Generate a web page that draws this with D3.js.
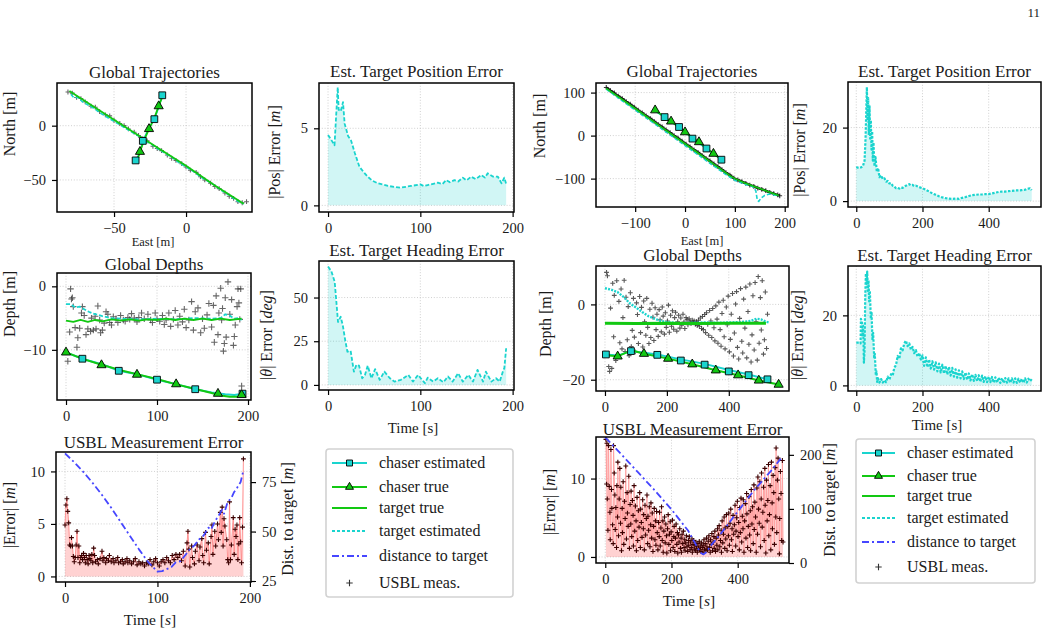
<!DOCTYPE html>
<html>
<head>
<meta charset="utf-8">
<script src="https://cdn.jsdelivr.net/npm/d3@7"></script>
<style>
body { margin: 0; background: #fff; }
text { font-family: "Liberation Serif", "DejaVu Serif", serif; fill: #1a1a1a; }
</style>
</head>
<body>
<svg id="fig" width="1048" height="633"></svg>
<script>
// ---------- data ----------
// left scenario: trajectories [east, north]
const targetTrueA = [[-81, 32], [-60, 14], [-40, -3], [-20, -20], [0, -37], [20, -55], [40, -72]];
const targetEstA = [[-80, 29], [-78, 26], [-75, 26], [-72, 22], [-68, 19], [-64, 16], [-60, 12], [-55, 8], [-50, 4], [-45, 0], [-40, -4], [-35, -8], [-31, -11], [-29, -14], [-27, -15], [-24, -17], [-20, -21], [-15, -25], [-10, -29], [-5, -34], [0, -38], [5, -42], [10, -47], [15, -51], [20, -55], [25, -60], [30, -64], [34, -68], [38, -71], [40, -72]];
const usblA = [[-82, 31], [-79, 30], [-76, 26], [-73, 25], [-70, 22], [-66, 18], [-63, 17], [-60, 13], [-56, 10], [-53, 9], [-50, 5], [-46, 2], [-43, 0], [-40, -3], [-36, -6], [-33, -9], [-30, -12], [-27, -14], [-23, -19], [-20, -21], [-17, -23], [-13, -27], [-10, -30], [-7, -32], [-3, -35], [0, -38], [3, -41], [7, -43], [10, -47], [13, -50], [17, -53], [20, -56], [23, -58], [27, -62], [30, -65], [33, -67], [36, -70], [39, -71], [42, -70]];
const chaserTrueA = [[-34, -33], [-32, -24], [-29, -13], [-25.7, -3], [-22, 7], [-19, 18], [-16, 28]];
const chaserEstA = [[-35, -32], [-32, -25], [-30, -14], [-26, -3], [-22, 6], [-19, 17], [-16.5, 28]];
const squaresA = [[-35, -32], [-30, -14], [-22, 6], [-16.5, 28]];
const trianglesA = [[-32, -24], [-25.7, -3], [-19, 18]];

// left scenario: errors over time [t, value]
const posErrL = [[0, 4.57], [4, 4.2], [7, 3.9], [10.5, 7.66], [11.5, 6.2], [13.7, 6.1], [16.2, 6.7], [18, 5.3], [21.7, 4.5], [25, 4.2], [29, 3.4], [34, 2.5], [38, 2.2], [43, 1.86], [48, 1.6], [54, 1.43], [65, 1.26], [72, 1.2], [79, 1.15], [90, 1.26], [100, 1.36], [104, 1.25], [108, 1.32], [114, 1.4], [119, 1.47], [124, 1.38], [128, 1.64], [132, 1.5], [137, 1.64], [141, 1.55], [146, 1.8], [150, 1.62], [155, 1.86], [160, 1.7], [166, 1.97], [170, 1.8], [173, 2.08], [179, 1.86], [184, 1.86], [188, 1.43], [191, 1.8], [193, 1.39]];
const headErrL = [[0, 67.7], [3.6, 65], [7.2, 59], [9, 47.7], [10.8, 36], [13.7, 39], [16, 34], [18.8, 25], [21, 19], [24.5, 19.5], [28, 7.6], [30.7, 11.5], [33.6, 11], [37, 3.8], [40, 5.7], [43, 11], [47, 3.8], [51, 9], [56, 2.9], [61, 7.6], [67, 3.8], [72, 1.9], [79, 2.9], [87, 5.7], [92, 1.9], [97.5, 5.7], [105, 1], [108, 4.2], [114, 1.9], [119, 3.8], [125, 1.5], [130, 4.8], [135, 1.9], [141, 6.7], [146, 1.9], [152, 5.7], [157, 1.9], [162, 8.6], [168, 1.9], [171, 7.6], [177, 1.9], [182, 3.8], [186, 1.9], [190, 8.6], [191, 9.5], [193, 21]];

// left scenario: depths [t, depth]
const targetTrueE = [[0, -5.4], [8, -5.6], [16, -5.3], [24, -5.6], [32, -5.3], [40, -5.5], [50, -5.2], [60, -5.4], [70, -5.2], [80, -5.4], [90, -5.2], [100, -5.3], [110, -5.1], [120, -5.3], [130, -5.1], [140, -5.3], [150, -5.1], [160, -5.3], [170, -5.1], [180, -5.3], [193, -5.1]];
const targetEstE = [[0, -2.8], [5, -2.8], [10, -3.3], [15, -3.2], [20, -3.6], [25, -4.0], [30, -4.3], [40, -4.7], [50, -5.0], [60, -5.1], [80, -5.2], [100, -5.1], [120, -5.2], [140, -5.0], [160, -5.1], [170, -5.0], [175, -4.4], [180, -4.6], [185, -5.1], [190, -5.0], [193, -5.3]];
const usblE = [[2, -11.8], [4, -7.2], [5, -0.4], [6, -2], [7, -1.8], [8, -3.2], [10, -6.5], [12, -9.6], [13, -8.1], [15, -6.6], [17, -4.2], [18, -3.2], [20, -4.6], [22, -7.6], [24, -6.7], [27, -7.1], [28, -5], [30, -6.9], [32, -4.7], [33, -6.7], [35, -3.1], [37, -5.3], [38, -7.3], [40, -6.9], [42, -5.8], [44, -4], [46, -4.4], [48, -5.7], [50, -6.1], [52, -4.8], [55, -5.1], [57, -5.7], [60, -4.6], [63, -5.3], [65, -5.5], [68, -4.9], [70, -5.2], [72, -4.3], [75, -5], [78, -5.6], [80, -4.9], [83, -4.2], [86, -5.1], [90, -4.4], [93, -5.3], [95, -5.7], [98, -4.2], [100, -5.1], [103, -5.5], [106, -4.6], [108, -6.0], [110, -5.3], [113, -4.2], [115, -6.3], [118, -5.2], [120, -3.8], [123, -6.1], [125, -4.7], [128, -5.6], [130, -3.6], [132, -6.5], [135, -5.3], [138, -2.4], [140, -6.9], [142, -4], [145, -3.4], [148, -7.3], [150, -5.1], [152, -6.6], [155, -4.5], [157, -2.7], [160, -6.4], [162, -3], [163, -8.8], [165, -1.5], [167, -7.6], [168, -4.2], [170, -0.3], [171, -5.3], [172, -3.5], [173, -10.2], [174, -9], [175, -1.8], [176, -8], [178, 0.7], [180, -4.4], [182, -2.1], [184, -9.3], [185, -7.9], [186, -6.1], [188, -3.2], [189, -0.4], [190, -2.6], [191, -5.2], [192, -0.4], [193, -15.7]];
const chaserTrueE = [[0, -10.4], [20, -11.5], [40, -12.4], [60, -13.2], [80, -13.9], [100, -14.6], [120, -15.4], [140, -16.1], [160, -16.8], [170, -17.2], [180, -17.4], [188, -17.4], [193, -17.1]];
const chaserEstE = [[0, -10.4], [18, -11.4], [40, -12.3], [58, -13.3], [80, -13.9], [100, -14.7], [121, -15.4], [142, -16.2], [160, -16.7], [175, -17.0], [185, -17.1], [194, -16.9]];
const trianglesE = [[0, -10.4], [39, -12.4], [78, -13.9], [121, -15.4], [167, -16.9], [193, -17.1]];
const squaresE = [[18, -11.4], [58, -13.3], [100, -14.7], [142, -16.2], [194, -16.9]];

// left scenario: USBL error and distance
const usblErrL = [[0, 4.9], [1, 6.8], [2, 7.4], [3, 6.2], [4, 5.1], [5, 3.0], [6, 2.9], [7, 3.7], [8, 2.9], [9, 1.9], [10, 1.4], [11, 1.8], [12, 3.0], [13, 4.3], [14, 1.8], [15, 2.9], [16, 1.3], [17, 1.8], [18, 2.0], [19, 1.6], [20, 2.2], [21, 1.8], [22, 1.3], [23, 2.0], [24, 1.6], [25, 1.2], [26, 2.0], [27, 1.7], [28, 1.5], [29, 2.1], [30, 1.3], [31, 2.7], [32, 2.0], [33, 1.4], [35, 1.6], [36, 1.2], [38, 1.7], [40, 2.4], [41, 1.5], [42, 1.8], [44, 1.3], [45, 1.7], [47, 1.5], [48, 2.0], [50, 1.4], [52, 1.7], [53, 1.3], [55, 1.5], [57, 1.8], [58, 1.3], [60, 1.4], [62, 1.6], [63, 1.2], [65, 1.4], [67, 1.7], [68, 1.3], [70, 1.5], [72, 1.2], [74, 1.4], [76, 1.7], [78, 1.1], [80, 1.4], [82, 1.2], [84, 1.3], [86, 1.0], [88, 1.3], [90, 1.2], [92, 1.6], [94, 1.1], [96, 1.4], [98, 1.7], [100, 1.3], [102, 1.0], [104, 1.4], [106, 1.6], [108, 1.3], [110, 1.8], [112, 1.5], [114, 1.3], [116, 2.0], [118, 1.6], [120, 2.1], [122, 1.8], [124, 2.1], [126, 1.5], [128, 2.4], [130, 1.0], [132, 3.2], [133, 4.3], [134, 2.6], [135, 0.9], [137, 2.9], [138, 1.8], [140, 1.2], [141, 2.4], [143, 3.0], [145, 1.5], [146, 2.8], [148, 3.6], [149, 2.0], [150, 1.3], [152, 4.2], [153, 2.5], [155, 3.2], [156, 1.2], [158, 3.8], [159, 4.9], [160, 2.1], [162, 4.3], [163, 2.9], [165, 5.0], [166, 3.5], [168, 6.1], [169, 4.2], [170, 6.6], [171, 2.9], [172, 5.5], [173, 4.8], [175, 3.5], [176, 1.6], [177, 1.3], [178, 7.1], [179, 1.6], [180, 3.0], [182, 5.6], [183, 2.1], [184, 4.5], [185, 3.8], [186, 4.9], [187, 1.6], [188, 3.1], [189, 5.6], [190, 3.3], [191, 1.3], [192, 4.7], [193, 11.2]];
const distL = [[0, 89.5], [10, 85], [20, 80], [30, 74.5], [40, 68.5], [50, 62], [60, 55], [70, 48], [80, 41], [90, 34.5], [100, 29.8], [105, 30], [110, 31], [115, 32], [120, 34.5], [125, 35], [130, 38], [135, 41], [140, 43], [145, 46], [150, 48], [155, 52], [158, 51], [162, 55], [166, 58], [170, 61], [172, 59], [176, 65], [180, 67], [183, 70], [186, 72], [190, 75], [193, 81]];

// right scenario: trajectories
const targetTrueC = [[-158, 110], [-100, 63], [-50, 22], [0, -19], [50, -60], [90, -93], [100, -100], [120, -110], [150, -123], [188, -139]];
const targetEstC = [[-158, 108], [-120, 76], [-80, 43], [-40, 10], [0, -23], [40, -56], [80, -89], [100, -104], [120, -113], [135, -118], [142, -128], [145, -150], [148, -153], [152, -146], [160, -139], [170, -136], [180, -138], [188, -141]];
const usblC = [[-158, 112], [-150, 105], [-142, 99], [-134, 92], [-126, 86], [-118, 79], [-110, 73], [-102, 66], [-94, 59], [-86, 53], [-78, 46], [-70, 40], [-62, 33], [-54, 26], [-46, 20], [-38, 13], [-30, 7], [-22, 0], [-14, -6], [-6, -13], [2, -20], [10, -26], [18, -33], [26, -39], [34, -46], [42, -53], [50, -59], [58, -66], [66, -72], [74, -79], [82, -86], [90, -92], [98, -99], [106, -103], [114, -107], [122, -111], [130, -115], [138, -118], [146, -122], [154, -125], [162, -128], [170, -132], [178, -135], [186, -138], [190, -140]];
const chaserTrueC = [[-60, 59], [-28, 33], [0, 8], [28, -15], [57, -42], [75, -57]];
const chaserEstC = [[-60, 57], [-41, 43], [-12, 20], [15, -7], [43, -30], [73, -56]];
const squaresC = [[-41, 43], [-12, 20], [15, -7], [43, -30], [73, -56]];
const trianglesC = [[-60, 59], [-28, 33], [0, 8], [28, -15], [57, -42]];

// right scenario: errors
const posErrR = [[0, 9.3], [5, 9.1], [10, 9.0], [15, 9.2], [20, 9.5], [25, 11], [28, 17], [30, 24], [32, 31], [34, 22], [36, 28], [38, 18], [40, 26], [42, 17], [44, 22], [46, 14], [48, 19], [50, 11], [52, 16], [55, 9.5], [58, 12], [62, 8], [66, 9], [70, 6.5], [75, 7], [80, 6], [85, 6.2], [90, 5.3], [95, 5.5], [100, 4.8], [105, 4.9], [110, 4.2], [115, 4.0], [120, 3.5], [125, 3.6], [130, 3.4], [135, 3.7], [140, 3.6], [145, 3.9], [150, 4.2], [155, 4.4], [160, 4.6], [165, 4.3], [170, 4.4], [175, 4.1], [180, 4.2], [190, 3.8], [200, 3.5], [210, 3.1], [220, 2.6], [230, 2.1], [240, 1.7], [250, 1.3], [260, 1.0], [270, 0.8], [280, 0.7], [290, 0.6], [300, 0.7], [310, 0.6], [320, 0.9], [330, 1.1], [340, 1.4], [350, 1.6], [360, 1.7], [370, 1.8], [380, 1.8], [390, 1.9], [400, 1.9], [410, 2.1], [420, 2.3], [430, 2.5], [440, 2.6], [450, 2.6], [460, 2.7], [470, 2.8], [480, 2.9], [490, 2.9], [500, 3.0], [510, 3.1], [515, 3.3], [520, 3.4], [525, 3.5], [530, 3.0]];
const headErrR = [[0, 12.2], [10, 12.2], [13, 12], [14, 19], [17, 18], [19, 14], [21, 17], [23, 6.5], [25, 10], [27, 25], [29, 32], [31, 29], [33, 32.5], [35, 27], [37, 30], [39, 24], [41, 27], [44, 19], [46, 21], [49, 13], [51, 15], [54, 8], [56, 9], [59, 3], [61, 4], [63, 1], [66, 2], [70, 0.8], [75, 1.8], [80, 0.8], [85, 1.5], [90, 0.9], [95, 2.5], [100, 1.6], [105, 3.2], [110, 2.8], [115, 5.1], [120, 5.8], [125, 8.4], [130, 7.6], [135, 10.6], [140, 10], [145, 12], [150, 12.8], [155, 11.2], [160, 12], [165, 10.2], [170, 11], [175, 9.2], [180, 10.1], [185, 8.2], [190, 9.3], [195, 7.4], [200, 8.6], [205, 5.6], [210, 8], [215, 5.2], [220, 7.4], [225, 4.8], [230, 6.9], [235, 4.5], [240, 6.6], [245, 4.0], [250, 6.2], [255, 3.7], [260, 5.9], [265, 3.4], [270, 5.6], [275, 3.1], [280, 5.3], [285, 2.8], [290, 5.0], [295, 2.5], [300, 4.6], [305, 2.2], [310, 4.3], [315, 2.0], [320, 4.0], [325, 1.8], [330, 3.7], [335, 1.6], [340, 3.4], [345, 1.4], [350, 3.2], [355, 1.3], [360, 3.0], [365, 1.2], [370, 2.9], [375, 1.0], [380, 2.8], [385, 1.0], [390, 2.6], [395, 0.9], [400, 2.5], [405, 0.9], [410, 2.4], [415, 0.8], [420, 2.3], [425, 0.8], [430, 2.2], [435, 0.7], [440, 2.1], [445, 0.7], [450, 2.1], [455, 0.8], [460, 2.0], [465, 0.7], [470, 2.0], [475, 0.8], [480, 2.0], [485, 0.7], [490, 1.9], [495, 0.8], [500, 1.9], [505, 0.7], [510, 2.0], [515, 0.8], [520, 1.9], [525, 1.2], [530, 1.8]];

// right scenario: depths
const targetTrueG = [[0, -5], [100, -5.1], [200, -5], [300, -5.1], [400, -5], [520, -5]];
const targetEstG = [[0, 4.3], [20, 3.9], [40, 3.3], [60, 2], [80, 0.3], [100, -0.8], [120, -2], [140, -3.1], [160, -3.8], [180, -4.4], [200, -4.7], [240, -5], [280, -4.9], [320, -4.8], [360, -4.9], [400, -4.8], [440, -4.7], [470, -4.4], [490, -3.8], [505, -4.0], [520, -4.6], [530, -4.8]];
const usblG = [[5, 8.5], [8, 7.6], [12, -16.5], [15, -17.8], [18, -1], [22, -17], [25, 5.6], [28, -8.6], [30, 2.4], [35, -14.9], [38, 6.3], [42, -13.5], [45, 0.8], [48, -10.2], [52, 4.1], [55, -11.8], [58, -3.5], [62, 6.4], [65, -12.5], [68, 1.9], [72, -9.4], [75, -0.6], [78, -13.6], [82, 3.1], [85, -11.2], [88, -6.9], [92, 1.6], [95, -8.7], [98, -12.6], [102, 0.4], [105, -2.7], [108, -10.4], [112, 2.1], [115, -7.5], [118, -0.8], [122, -11.3], [125, 0.9], [128, -4.6], [132, -8.2], [135, 1.6], [138, -6.1], [142, -10.4], [145, -1.3], [148, -8.8], [152, 0.3], [155, -3.4], [158, -9.6], [162, -0.9], [165, -6.7], [168, -2.6], [172, -8.5], [175, -1.4], [178, -4.1], [182, -7.3], [185, -0.7], [188, -3.1], [192, -7.9], [195, -2.2], [198, -6.1], [202, -4.4], [205, -0.2], [208, -7.4], [212, -2.9], [215, -5.8], [218, -1.7], [222, -6.6], [225, -3.5], [228, -2.1], [232, -7.1], [235, -4.6], [238, -2.9], [242, -6.3], [245, -3.6], [248, -5.5], [252, -2.6], [255, -4.7], [258, -6.4], [262, -3.5], [265, -4.1], [268, -5.4], [272, -3.8], [275, -4.6], [278, -5.1], [282, -4.2], [285, -4.9], [288, -4.4], [292, -5.3], [295, -4.5], [298, -5.6], [302, -4.2], [305, -5.8], [308, -3.6], [312, -6.4], [315, -3.2], [318, -6.7], [322, -2.7], [325, -7.5], [328, -2.2], [332, -5.3], [335, -8.2], [338, -1.6], [342, -4.4], [345, -8.8], [348, -1.1], [352, -6.2], [355, -9.7], [358, -0.4], [362, -3.9], [365, -10.3], [368, 0.6], [372, -6.7], [375, -11.1], [378, -2.4], [382, 1.1], [385, -8.6], [388, -11.8], [392, -0.7], [395, -5.4], [398, 2.2], [402, -12.6], [405, -9.3], [408, -2.6], [412, 2.9], [415, -13.7], [418, -7.6], [422, 0.1], [425, 3.4], [428, -11.4], [432, -14.5], [435, -3.7], [438, 4.2], [442, -9.8], [445, -12.9], [448, 1.4], [452, -6.3], [455, 4.6], [458, -14.2], [462, -1.9], [465, -10.6], [468, 5.4], [472, -15.3], [475, -8.1], [478, 2.3], [482, -12.1], [485, 5.8], [488, -4.6], [492, -14.8], [495, 7.4], [498, -10.3], [502, 1.8], [505, -6.8], [508, 6.3], [512, -13.2], [515, -9.4], [518, 3.3], [522, -11.7], [525, -2.6]];
const chaserTrueG = [[0, -13.5], [41, -13.8], [85, -12.2], [126, -13.1], [204, -14.4], [282, -15.9], [358, -17.5], [430, -18.8], [497, -20.2], [561, -21.3]];
const chaserEstG = [[3, -13.3], [41, -13.6], [84, -12.4], [169, -13.3], [245, -14.6], [322, -15.8], [400, -17.4], [464, -18.6], [525, -19.9]];
const squaresG = [[3, -13.3], [84, -12.4], [169, -13.4], [245, -14.9], [322, -16], [400, -17.8], [464, -18.8], [525, -19.9]];
const trianglesG = [[41, -13.8], [126, -13.1], [204, -14.4], [282, -15.9], [358, -17.5], [430, -18.8], [497, -20.2], [561, -21.3]];

// right scenario: USBL error and distance
const usblErrR = [[2, 15], [4, 9.3], [5, 14.5], [6, 7.4], [8, 3.4], [10, 14.2], [12, 9], [14, 5.7], [15, 2.2], [17, 13.7], [19, 8.6], [20, 6.2], [22, 4.1], [24, 1.7], [25, 14.2], [27, 10.7], [29, 7.9], [30, 3.5], [32, 6.3], [34, 1.2], [35, 9.1], [37, 5.1], [38, 12.1], [40, 2.7], [42, 7.4], [44, 11.3], [46, 4.3], [47, 8.9], [49, 0.8], [51, 6.2], [52, 3.1], [54, 9.6], [56, 1.6], [58, 7.1], [60, 4.9], [62, 11.6], [64, 2.3], [66, 8.2], [67, 5.6], [69, 3.9], [71, 10.3], [73, 1.1], [75, 6.7], [77, 4.2], [78, 8.4], [80, 2.6], [82, 7.2], [84, 5.3], [85, 1.4], [87, 9.1], [89, 3.3], [91, 6.5], [93, 4.6], [94, 0.8], [96, 7.6], [98, 2.1], [100, 5.9], [102, 3.8], [104, 8.2], [106, 1.2], [107, 6.1], [109, 4.4], [111, 2.5], [113, 7.3], [115, 3.6], [116, 5.4], [118, 0.9], [120, 6.6], [122, 2.8], [124, 4.9], [126, 7.9], [128, 1.7], [129, 5.2], [131, 3.4], [133, 6.4], [135, 1.3], [137, 4.1], [138, 6.9], [140, 2.4], [142, 5.6], [144, 0.7], [146, 3.9], [148, 6.2], [150, 2.2], [152, 4.6], [153, 1.5], [155, 5.8], [157, 3.1], [159, 0.9], [161, 4.4], [163, 2.6], [164, 5.7], [166, 1.4], [168, 3.7], [170, 6.4], [172, 2.1], [174, 4.6], [175, 0.6], [177, 3.3], [179, 5.1], [181, 1.8], [183, 4.2], [185, 2.7], [186, 0.5], [188, 3.6], [190, 5.4], [192, 1.6], [194, 2.9], [196, 4.5], [197, 0.8], [199, 3.2], [201, 2.1], [203, 4.7], [205, 1.2], [207, 2.6], [208, 3.9], [210, 0.7], [212, 2.4], [214, 4.2], [216, 1.6], [218, 3.1], [219, 0.5], [221, 2.8], [223, 1.9], [225, 3.6], [227, 1.1], [229, 2.4], [230, 0.6], [232, 2.9], [234, 1.7], [236, 3.3], [238, 1.2], [240, 2.2], [241, 0.8], [243, 1.8], [245, 2.7], [247, 1.3], [249, 0.7], [251, 2.1], [252, 1.5], [254, 2.6], [256, 0.9], [258, 1.9], [260, 1.2], [262, 2.3], [263, 0.6], [265, 1.6], [267, 2.1], [269, 1.0], [271, 1.5], [273, 0.8], [274, 1.9], [276, 1.3], [278, 0.6], [280, 1.7], [282, 1.1], [284, 2.0], [285, 0.9], [287, 1.4], [289, 0.7], [291, 1.8], [293, 1.2], [295, 0.6], [296, 1.5], [298, 2.2], [300, 1.0], [302, 1.7], [304, 0.8], [306, 2.4], [307, 1.3], [309, 0.9], [311, 2.0], [313, 2.7], [315, 1.2], [317, 0.6], [318, 2.2], [320, 1.6], [322, 3.0], [324, 0.8], [326, 1.9], [328, 2.6], [329, 1.1], [331, 3.3], [333, 0.7], [335, 2.4], [337, 1.5], [339, 3.6], [340, 0.9], [342, 2.8], [344, 4.0], [346, 1.3], [348, 2.1], [350, 3.4], [351, 0.6], [353, 4.6], [355, 1.8], [357, 2.9], [359, 5.1], [361, 1.1], [362, 3.7], [364, 2.3], [366, 5.4], [368, 0.8], [370, 3.9], [372, 2.7], [373, 5.6], [375, 1.5], [377, 4.3], [379, 6.1], [381, 2.2], [383, 3.6], [384, 0.7], [386, 5.3], [388, 2.9], [390, 4.1], [392, 6.6], [394, 1.4], [395, 3.3], [397, 5.0], [399, 7.1], [401, 2.6], [403, 4.4], [405, 0.9], [406, 6.3], [408, 3.1], [410, 7.5], [412, 1.9], [414, 5.2], [416, 3.6], [417, 7.3], [419, 0.6], [421, 4.6], [423, 6.8], [425, 2.4], [427, 8.1], [428, 5.5], [430, 1.2], [432, 3.9], [434, 7.7], [436, 2.8], [438, 5.9], [439, 0.8], [441, 8.6], [443, 4.2], [445, 6.4], [447, 1.7], [449, 9.2], [450, 3.5], [452, 7.0], [454, 5.1], [456, 0.6], [458, 8.8], [460, 2.9], [461, 10.2], [463, 6.1], [465, 4.3], [467, 9.6], [469, 1.3], [471, 7.4], [472, 10.7], [474, 3.8], [476, 5.7], [478, 8.9], [480, 2.1], [482, 11.3], [483, 6.6], [485, 0.5], [487, 9.8], [489, 4.6], [491, 7.2], [493, 11.8], [494, 2.7], [496, 5.4], [498, 9.1], [500, 0.9], [502, 12.1], [504, 6.9], [505, 3.6], [507, 10.4], [509, 8.2], [511, 1.6], [513, 11.4], [515, 5.1], [516, 13.9], [518, 3.1], [520, 9.8], [522, 12.6], [524, 7.4], [526, 0.4], [527, 4.9], [529, 10.9], [531, 8.1], [533, 2.1], [535, 12.3], [537, 1.9]];
const distR = [[0, 232], [10, 226], [50, 200], [100, 167], [150, 134], [200, 99], [250, 60], [280, 27], [290, 18], [297, 16], [305, 20], [320, 33], [350, 55], [400, 95], [450, 135], [500, 170], [530, 193]];

// tick values
const ticksTrajLx = [-50, 0], ticksTrajLy = [-50, 0];
const ticksTimeL = [0, 100, 200];
const ticksPosLy = [0, 5];
const ticksTrajRx = [-100, 0, 100, 200], ticksTrajRy = [-100, 0, 100];
const ticksTimeR = [0, 200, 400];
const ticksPosRy = [0, 20];
const ticksDepthLy = [-10, 0];
const ticksHeadLy = [0, 25, 50];
const ticksDepthRy = [-20, 0];
const ticksHeadRy = [0, 20];
const ticksUsblLy = [0, 5, 10], ticksDistLy = [25, 50, 75];
const ticksUsblRy = [0, 10], ticksDistRy = [0, 100, 200];

const legendLabels = ["chaser estimated", "chaser true", "target true", "target estimated", "distance to target", "USBL meas."];

// ---------- drawing ----------
const svg = d3.select("#fig");
const cyan = "#1ad4ce";
const green = "#12c812";
const blue = "#4646ff";
const fontTick = 14.5;
const plus = "M-3.2,0H3.2M0,-3.2V3.2";
const plusSmall = "M-2.4,0H2.4M0,-2.4V2.4";
let clipCount = 0;

function addPanel(p) {
    const x = d3.scaleLinear().domain(p.xd).range([p.l, p.r]);
    const y = d3.scaleLinear().domain(p.yd).range([p.b, p.t]);
    const g = svg.append("g");
    const grid = g.append("g")
        .attr("stroke", "#c4c4c4").attr("stroke-width", 0.8).attr("stroke-dasharray", "1,1.8");
    grid.selectAll("line.gx").data(p.xt).join("line")
        .attr("class", "gx")
        .attr("x1", d => x(d)).attr("x2", d => x(d)).attr("y1", p.t).attr("y2", p.b);
    grid.selectAll("line.gy").data(p.yt).join("line")
        .attr("class", "gy")
        .attr("y1", d => y(d)).attr("y2", d => y(d)).attr("x1", p.l).attr("x2", p.r);

    const id = "clip" + (clipCount++);
    svg.append("clipPath").attr("id", id).append("rect")
        .attr("x", p.l).attr("y", p.t).attr("width", p.r - p.l).attr("height", p.b - p.t);
    const plot = g.append("g").attr("clip-path", "url(#" + id + ")");
    const axes = g.append("g");

    const xa = axes.append("g").attr("transform", "translate(0," + p.b + ")")
        .call(d3.axisBottom(x).tickValues(p.xt).tickSize(5).tickPadding(6).tickFormat(d3.format("d")));
    const ya = axes.append("g").attr("transform", "translate(" + p.l + ",0)")
        .call(d3.axisLeft(y).tickValues(p.yt).tickSize(5).tickPadding(6).tickFormat(d3.format("d")));
    [xa, ya].forEach(a => {
        a.select(".domain").remove();
        a.attr("font-size", fontTick).attr("font-family", null);
        a.selectAll("line").attr("stroke", "#000").attr("stroke-width", 1.2);
    });
    let y2 = null;
    if (p.y2d) {
        y2 = d3.scaleLinear().domain(p.y2d).range([p.b, p.t]);
        const ra = axes.append("g").attr("transform", "translate(" + p.r + ",0)")
            .call(d3.axisRight(y2).tickValues(p.y2t).tickSize(5).tickPadding(6).tickFormat(d3.format("d")));
        ra.select(".domain").remove();
        ra.attr("font-size", fontTick).attr("font-family", null);
        ra.selectAll("line").attr("stroke", "#000").attr("stroke-width", 1.2);
    }
    axes.append("rect")
        .attr("x", p.l).attr("y", p.t).attr("width", p.r - p.l).attr("height", p.b - p.t)
        .attr("fill", "none").attr("stroke", "#000").attr("stroke-width", 1.5);
    axes.append("text")
        .attr("x", (p.l + p.r) / 2).attr("y", p.ty)
        .attr("text-anchor", "middle").attr("font-size", 17)
        .text(p.title);
    return { x, y, y2, plot, g };
}

function label(x, y, parts, size, rotate) {
    const t = svg.append("text")
        .attr("text-anchor", "middle").attr("font-size", size)
        .attr("transform", "translate(" + x + "," + y + ")" + (rotate ? " rotate(-90)" : ""));
    parts.forEach(pt => {
        t.append("tspan").attr("font-style", pt[1] ? "italic" : null).text(pt[0]);
    });
}

function drawLine(P, data, color, width, dash, yScale) {
    const ys = yScale || P.y;
    P.plot.append("path")
        .datum(data)
        .attr("d", d3.line().x(d => P.x(d[0])).y(d => ys(d[1])))
        .attr("fill", "none").attr("stroke", color).attr("stroke-width", width)
        .attr("stroke-dasharray", dash)
        .attr("stroke-linejoin", "round");
}

function drawArea(P, data, color, opacity) {
    P.plot.append("path")
        .datum(data)
        .attr("d", d3.area().x(d => P.x(d[0])).y0(P.y(0)).y1(d => P.y(d[1])))
        .attr("fill", color).attr("fill-opacity", opacity);
}

function drawPlus(P, data, color, opacity, shape) {
    P.plot.selectAll(null).data(data).join("path")
        .attr("d", shape || plus)
        .attr("transform", d => "translate(" + P.x(d[0]) + "," + P.y(d[1]) + ")")
        .attr("stroke", color).attr("stroke-width", 1.1).attr("stroke-opacity", opacity);
}

function drawSymbols(P, data, type, fill) {
    P.plot.selectAll(null).data(data).join("path")
        .attr("d", d3.symbol().type(type).size(type === d3.symbolSquare ? 46 : 36))
        .attr("transform", d => "translate(" + P.x(d[0]) + "," + P.y(d[1]) + ")")
        .attr("fill", fill).attr("stroke", "#000").attr("stroke-width", 0.9);
}

// ----- panels -----
const pA = addPanel({ l: 57, r: 252, t: 83, b: 212, xd: [-89.6, 45.8], yd: [-79.5, 39.3], xt: ticksTrajLx, yt: ticksTrajLy, title: "Global Trajectories", ty: 78 });
const pB = addPanel({ l: 319, r: 514, t: 83, b: 212, xd: [-9.8, 201.5], yd: [-0.43, 7.94], xt: ticksTimeL, yt: ticksPosLy, title: "Est. Target Position Error", ty: 77 });
const pC = addPanel({ l: 596, r: 788, t: 83, b: 207, xd: [-178.6, 206.6], yd: [-166, 122.3], xt: ticksTrajRx, yt: ticksTrajRy, title: "Global Trajectories", ty: 77 });
const pD = addPanel({ l: 848, r: 1041, t: 82, b: 207, xd: [-25, 558], yd: [-1.6, 32.4], xt: ticksTimeR, yt: ticksPosRy, title: "Est. Target Position Error", ty: 77 });
const pE = addPanel({ l: 57, r: 251, t: 273, b: 400, xd: [-9.9, 203.3], yd: [-17.9, 2.1], xt: ticksTimeL, yt: ticksDepthLy, title: "Global Depths", ty: 270 });
const pF = addPanel({ l: 319, r: 514, t: 261, b: 390, xd: [-9.8, 201.5], yd: [-2.9, 70.9], xt: ticksTimeL, yt: ticksHeadLy, title: "Est. Target Heading Error", ty: 256 });
const pG = addPanel({ l: 596, r: 789, t: 266, b: 391, xd: [-29, 594.5], yd: [-23, 10.2], xt: ticksTimeR, yt: ticksDepthRy, title: "Global Depths", ty: 261 });
const pH = addPanel({ l: 848, r: 1041, t: 266, b: 391, xd: [-25, 558], yd: [-1.6, 34.1], xt: ticksTimeR, yt: ticksHeadRy, title: "Est. Target Heading Error", ty: 261 });
const pI = addPanel({ l: 56, r: 251, t: 452, b: 582, xd: [-9.75, 201.2], yd: [-0.53, 11.85], xt: ticksTimeL, yt: ticksUsblLy, y2d: [24.5, 90.2], y2t: ticksDistLy, title: "USBL Measurement Error", ty: 448 });
const pJ = addPanel({ l: 596, r: 789, t: 437, b: 563, xd: [-28, 555], yd: [-0.77, 15.3], xt: ticksTimeR, yt: ticksUsblRy, y2d: [0, 233], y2t: ticksDistRy, title: "USBL Measurement Error", ty: 435 });

// axis labels
label(15, 124, [["North [m]", 0]], 16, true);
label(153, 246, [["East [m]", 0]], 12.5, false);
label(280, 152, [["|Pos| Error [", 0], ["m", 1], ["]", 0]], 16, true);
label(545, 126, [["North [m]", 0]], 16, true);
label(702, 245, [["East [m]", 0]], 12.5, false);
label(805, 150, [["|Pos| Error [", 0], ["m", 1], ["]", 0]], 16, true);
label(15, 304, [["Depth [m]", 0]], 16, true);
label(272, 335, [["|", 0], ["θ", 1], ["| Error [", 0], ["deg", 1], ["]", 0]], 16, true);
label(413, 433, [["Time [s]", 0]], 15, false);
label(551, 324, [["Depth [m]", 0]], 16, true);
label(803, 335, [["|", 0], ["θ", 1], ["| Error [", 0], ["deg", 1], ["]", 0]], 16, true);
label(937, 430, [["Time [s]", 0]], 15, false);
label(15, 515, [["|Error| [", 0], ["m", 1], ["]", 0]], 16, true);
label(293, 519, [["Dist. to target [", 0], ["m", 1], ["]", 0]], 16, true);
label(150, 625, [["Time [", 0], ["s", 1], ["]", 0]], 15.5, false);
label(555, 502, [["|Error| [", 0], ["m", 1], ["]", 0]], 16, true);
label(835, 500, [["Dist. to target [", 0], ["m", 1], ["]", 0]], 16, true);
label(689, 606, [["Time [", 0], ["s", 1], ["]", 0]], 15.5, false);
svg.append("text").attr("x", 1040).attr("y", 17).attr("text-anchor", "end").attr("font-size", 13).text("11");

// A: left trajectories
drawPlus(pA, usblA, "#333", 0.75, plusSmall);
drawLine(pA, targetEstA, cyan, 1.6, "4,2");
drawLine(pA, targetTrueA, green, 1.8, null);
drawLine(pA, chaserEstA, cyan, 1.6, null);
drawLine(pA, chaserTrueA, green, 1.8, null);
drawSymbols(pA, squaresA, d3.symbolSquare, cyan);
drawSymbols(pA, trianglesA, d3.symbolTriangle, green);

// B: left position error
drawArea(pB, posErrL, cyan, 0.2);
drawLine(pB, posErrL, cyan, 1.8, "4,2");

// C: right trajectories
drawPlus(pC, usblC, "#111", 0.85, plusSmall);
drawLine(pC, usblC, "#111", 2.2, null);
drawLine(pC, targetEstC, cyan, 1.6, "4,2");
drawLine(pC, targetTrueC, green, 1.6, null);
drawLine(pC, chaserEstC, cyan, 1.6, null);
drawLine(pC, chaserTrueC, green, 1.8, null);
drawSymbols(pC, squaresC, d3.symbolSquare, cyan);
drawSymbols(pC, trianglesC, d3.symbolTriangle, green);

// D: right position error
drawArea(pD, posErrR, cyan, 0.2);
drawLine(pD, posErrR, cyan, 2.2, "2.5,1.5");

// E: left depths
drawPlus(pE, usblE, "#333", 0.75);
drawLine(pE, targetEstE, cyan, 1.8, "4,2");
drawLine(pE, targetTrueE, green, 1.8, null);
drawLine(pE, chaserEstE, cyan, 2, null);
drawLine(pE, chaserTrueE, green, 2, null);
drawSymbols(pE, squaresE, d3.symbolSquare, cyan);
drawSymbols(pE, trianglesE, d3.symbolTriangle, green);

// F: left heading error
drawArea(pF, headErrL, cyan, 0.2);
drawLine(pF, headErrL, cyan, 1.8, "4,2");

// G: right depths
drawPlus(pG, usblG, "#222", 0.75, plusSmall);
drawLine(pG, targetEstG, cyan, 2.4, "2,1.2");
drawLine(pG, targetTrueG, green, 3, null);
drawLine(pG, chaserEstG, cyan, 2, null);
drawLine(pG, chaserTrueG, green, 2, null);
drawSymbols(pG, squaresG, d3.symbolSquare, cyan);
drawSymbols(pG, trianglesG, d3.symbolTriangle, green);

// H: right heading error
drawArea(pH, headErrR, cyan, 0.2);
drawLine(pH, headErrR, cyan, 2.2, "2.5,1.5");

// I: left USBL error
drawArea(pI, usblErrL, "#ff2020", 0.2);
drawLine(pI, usblErrL, "#ff8a8a", 0.9, null);
drawPlus(pI, usblErrL, "#3a0000", 1, plusSmall);
drawLine(pI, distL, blue, 1.8, "7,3,2,3", pI.y2);

// J: right USBL error
drawArea(pJ, usblErrR, "#ff2020", 0.2);
drawLine(pJ, usblErrR, "#ff9a9a", 0.8, null);
drawPlus(pJ, usblErrR, "#3a0000", 1, plusSmall);
drawLine(pJ, distR, blue, 1.8, "7,3,2,3", pJ.y2);

// ----- legends -----
function legend(x0, y0, w, h, rows, hx0, hx1, tx) {
    const lg = svg.append("g");
    lg.append("rect").attr("x", x0).attr("y", y0).attr("width", w).attr("height", h)
        .attr("rx", 3).attr("fill", "#fff").attr("stroke", "#d2d2d2").attr("stroke-width", 1.6);
    const styles = [
        { c: cyan, dash: null, sym: d3.symbolSquare, fill: cyan },
        { c: green, dash: null, sym: d3.symbolTriangle, fill: green },
        { c: green, dash: null },
        { c: cyan, dash: "3,2" },
        { c: blue, dash: "7,3,2,3" },
        { plus: true }
    ];
    legendLabels.forEach((name, i) => {
        const s = styles[i];
        const yy = rows[i];
        if (s.plus) {
            lg.append("path").attr("d", plus)
                .attr("transform", "translate(" + ((hx0 + hx1) / 2) + "," + yy + ")")
                .attr("stroke", "#333").attr("stroke-width", 1.1);
        } else {
            lg.append("line").attr("x1", hx0).attr("x2", hx1).attr("y1", yy).attr("y2", yy)
                .attr("stroke", s.c).attr("stroke-width", 2).attr("stroke-dasharray", s.dash);
            if (s.sym) {
                lg.append("path").attr("d", d3.symbol().type(s.sym).size(s.sym === d3.symbolSquare ? 36 : 28))
                    .attr("transform", "translate(" + ((hx0 + hx1) / 2) + "," + yy + ")")
                    .attr("fill", s.fill).attr("stroke", "#000").attr("stroke-width", 0.9);
            }
        }
        lg.append("text").attr("x", tx).attr("y", yy + 5).attr("font-size", 16).text(name);
    });
}
legend(326, 449, 187, 148, [463, 487, 508, 531, 556, 583], 332, 367, 379);
legend(856, 439, 179, 144, [453, 476, 496, 518, 542, 567], 862, 895, 907);
</script>
</body>
</html>
